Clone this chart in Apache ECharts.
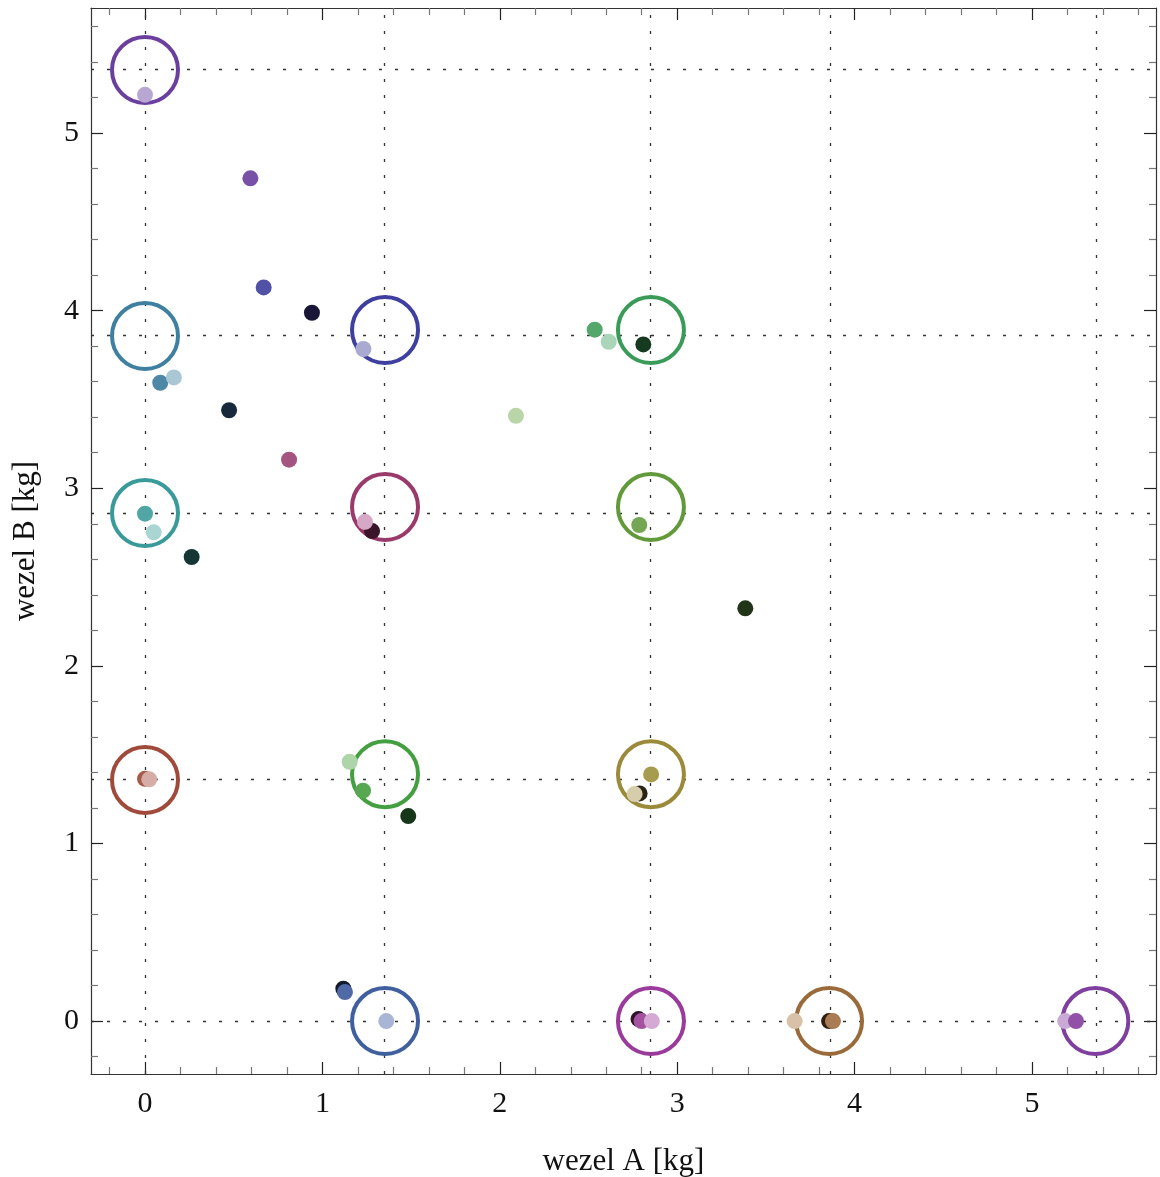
<!DOCTYPE html>
<html>
<head>
<meta charset="utf-8">
<script src="https://cdn.jsdelivr.net/npm/echarts@6/dist/echarts.min.js"></script>
<style>
html,body{margin:0;padding:0;background:#fff;}
#chart{width:1160px;height:1177px;}
</style>
</head>
<body>
<div id="chart"></div>
<script>
// ---- data ----
const xTicks = [0, 1, 2, 3, 4, 5];
const yTicks = [0, 1, 2, 3, 4, 5];
const gridX = [0, 1.353, 2.852, 3.856, 5.357];
const gridY = [0, 1.358, 2.860, 3.857, 5.355];

const circleX = [0, 0, 1.353, 2.852, 0, 1.353, 2.852, 0, 1.353, 2.852, 1.353, 2.852, 3.856, 5.357];
const circleY = [5.355, 3.857, 3.891, 3.891, 2.860, 2.894, 2.894, 1.358, 1.390, 1.390, 0, 0, 0, 0];
const circleColor = ['#6a3f9e', '#3f7f9f', '#3f3f9f', '#3a9a58', '#3a9a9a', '#9a3a6a', '#62993a',
  '#9f4a3a', '#439f3f', '#9a8a3a', '#3f5f9f', '#9a3a9a', '#9a6a3a', '#7f3f9f'];

const dotX = [0, 0.594, 0.669, 0.941, 1.231, 0.086, 0.163, 0.474, 0.812, 0, 0.049, 0.263, 1.280, 1.240,
  2.535, 2.614, 2.809, 2.091, 2.786, 3.384, 0, 0.024, 1.154, 1.229, 1.484, 1.118, 1.127, 1.360,
  2.853, 2.788, 2.760, 2.782, 2.799, 2.857, 3.662, 3.856, 3.878, 5.187, 5.248];
const dotY = [5.215, 4.745, 4.131, 3.988, 3.784, 3.594, 3.624, 3.439, 3.161, 2.857, 2.752, 2.613, 2.759, 2.811,
  3.893, 3.825, 3.810, 3.408, 2.793, 2.324, 1.364, 1.361, 1.460, 1.297, 1.154, 0.182, 0.163, 0,
  1.389, 1.282, 1.278, 0.011, 0, 0, 0, 0, 0, 0, 0];
const dotColor = ['#b9a7d3', '#7651a6', '#5151a6', '#1a1638', '#a9a9d2', '#4f87a7', '#a9c7d5', '#17293a', '#a5537f',
  '#51a5a5', '#a9d5d3', '#163636', '#3a1428', '#d5a9c5', '#53a76a', '#a9d5b8', '#153a20', '#b9d5a9', '#74a653',
  '#233519', '#a75a49', '#d5ada6', '#add5a9', '#58a853', '#163818', '#141a2e', '#4f6aa6', '#a9b5d5',
  '#a79b4f', '#2b2416', '#d5cdab', '#2f1429', '#a553a1', '#d5a9d3', '#d9c1a9', '#2d2013', '#a97c53',
  '#c9a9d5', '#9151a7'];

// ---- minor tick positions (every 0.2) ----
function minorTicks(lo, hi) {
  const out = [];
  for (let k = Math.ceil(lo / 0.2); k * 0.2 <= hi; k++) {
    if (k % 5 !== 0) out.push(+(k * 0.2).toFixed(2));
  }
  return out;
}

const X_MIN = -0.3044, X_MAX = 5.699;
const Y_MIN = -0.298, Y_MAX = 5.704;
const minorX = minorTicks(X_MIN, X_MAX);
const minorY = minorTicks(Y_MIN, Y_MAX);

const FONT = '"Liberation Serif", "Times New Roman", serif';
const frameColor = '#333';

function axisSet(kind, min, max, major, minor, name) {
  const isX = kind === 'x';
  const pos1 = isX ? 'bottom' : 'left';
  const pos2 = isX ? 'top' : 'right';
  const base = { type: 'value', min: min, max: max, splitLine: { show: false } };
  return [
    Object.assign({}, base, {
      position: pos1,
      axisLine: { show: true, onZero: false, lineStyle: { color: frameColor, width: 1.2 } },
      axisTick: { show: true, inside: true, length: 12, customValues: major, lineStyle: { color: '#222', width: 1.2 } },
      axisLabel: { show: true, customValues: major, margin: isX ? 15 : 12, fontFamily: FONT, fontSize: 30, color: '#111' },
      name: name, nameLocation: 'middle', nameGap: isX ? 72 : 50,
      nameTextStyle: { fontFamily: FONT, fontSize: 31, color: '#111' }
    }),
    Object.assign({}, base, {
      position: pos1,
      axisLine: { show: false, onZero: false },
      axisTick: { show: true, inside: true, length: 7, customValues: minor, lineStyle: { color: '#777', width: 1.2 } },
      axisLabel: { show: false }
    }),
    Object.assign({}, base, {
      position: pos2,
      axisLine: { show: true, onZero: false, lineStyle: { color: frameColor, width: 1.2 } },
      axisTick: { show: true, inside: true, length: 12, customValues: major, lineStyle: { color: '#222', width: 1.2 } },
      axisLabel: { show: false }
    }),
    Object.assign({}, base, {
      position: pos2,
      axisLine: { show: false, onZero: false },
      axisTick: { show: true, inside: true, length: 7, customValues: minor, lineStyle: { color: '#777', width: 1.2 } },
      axisLabel: { show: false }
    })
  ];
}

const circleData = circleX.map((x, i) => ({
  value: [x, circleY[i]],
  itemStyle: { color: 'rgba(0,0,0,0)', borderColor: circleColor[i], borderWidth: 4, opacity: 1 }
}));
const dotData = dotX.map((x, i) => ({
  value: [x, dotY[i]],
  itemStyle: { color: dotColor[i], opacity: 1 }
}));

const markData = gridX.map(v => ({ xAxis: v })).concat(gridY.map(v => ({ yAxis: v })));

const chart = echarts.init(document.getElementById('chart'), null, { renderer: 'canvas' });
chart.setOption({
  animation: false,
  backgroundColor: '#fff',
  grid: { left: 91, right: 4, top: 8, bottom: 103, containLabel: false, outerBoundsMode: 'none' },
  xAxis: axisSet('x', X_MIN, X_MAX, xTicks, minorX, 'wezel A [kg]'),
  yAxis: axisSet('y', Y_MIN, Y_MAX, yTicks, minorY, 'wezel B [kg]'),
  series: [
    {
      type: 'scatter', data: [], z: 1, silent: true,
      markLine: {
        z: 1, silent: true, symbol: ['none', 'none'], label: { show: false },
        lineStyle: { type: [3, 13], color: '#333', width: 1.3, opacity: 1 },
        data: markData, animation: false
      }
    },
    {
      type: 'scatter', z: 10, symbol: 'circle', symbolSize: 66, data: circleData, silent: true,
      itemStyle: { opacity: 1 }
    },
    {
      type: 'scatter', z: 11, symbol: 'circle', symbolSize: 16, data: dotData, silent: true,
      itemStyle: { opacity: 1 }
    }
  ]
});
</script>
</body>
</html>
